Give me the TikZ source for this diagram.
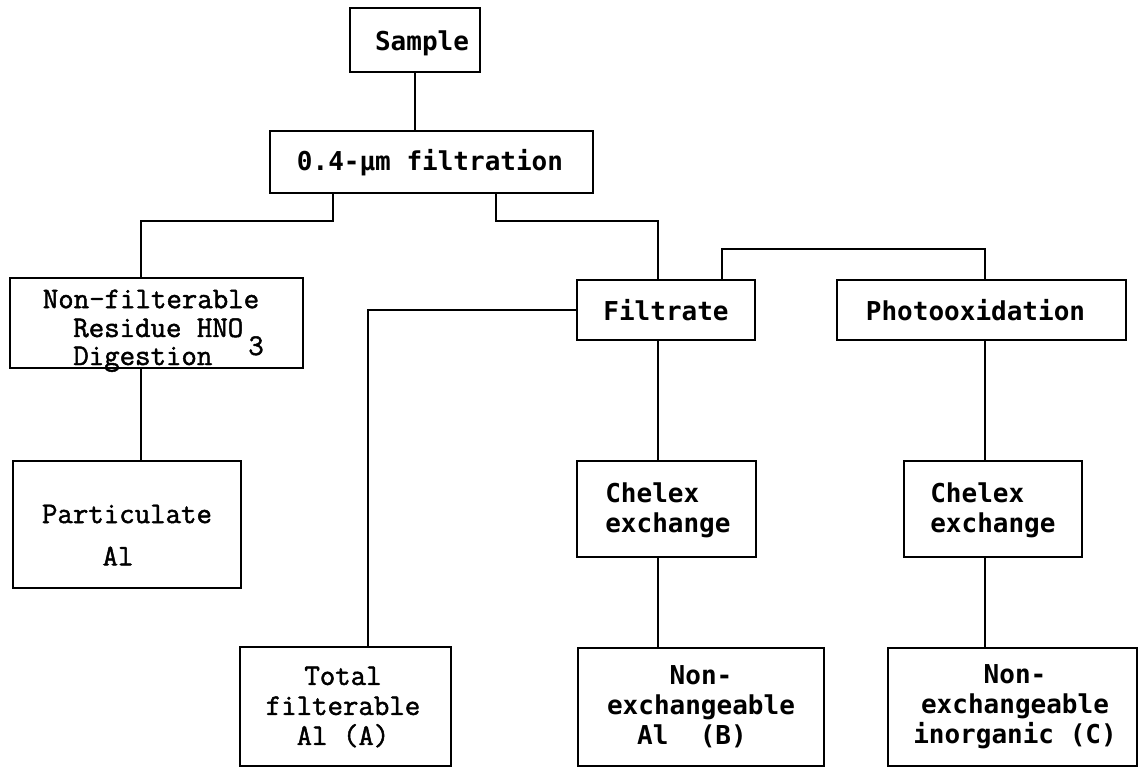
\documentclass[tikz,border=0pt]{standalone}
\usepackage{fontspec}
\setmonofont{Latin Modern Mono}[AutoFakeBold=1.6]
\newfontfamily\dmfont{DejaVu Sans Mono}
\begin{document}
\begin{tikzpicture}[x=1pt,y=-1pt,line width=2.6pt,
  box/.style={draw,line width=2.6pt,inner sep=0pt},
  dmt/.style={font=\fontsize{26}{30}\selectfont\dmfont\bfseries,align=center,inner sep=0pt},
  dml/.style={font=\fontsize{26}{30}\selectfont\dmfont\bfseries,align=left,inner sep=0pt},
  crt/.style={font=\fontsize{30}{30}\selectfont\ttfamily\bfseries,align=center,inner sep=0pt},
  crl/.style={font=\fontsize{30}{30}\selectfont\ttfamily\bfseries,inner sep=0pt,text height=17pt,text depth=3pt}]
\useasboundingbox (0,0) rectangle (1138,767);
% boxes
\node[box,minimum width=130,minimum height=64] (sample) at (415,40) {};
\node[box,minimum width=323,minimum height=62] (filt) at (431.5,162) {};
\node[box,minimum width=293,minimum height=90] (nonf) at (156.5,323) {};
\node[box,minimum width=178,minimum height=60] (filtrate) at (666,310) {};
\node[box,minimum width=289,minimum height=60] (photo) at (981.5,310) {};
\node[box,minimum width=228,minimum height=127] (part) at (127,524.5) {};
\node[box,minimum width=179,minimum height=96] (chel1) at (666.5,509) {};
\node[box,minimum width=178,minimum height=96] (chel2) at (993,509) {};
\node[box,minimum width=211,minimum height=119] (total) at (345.5,706.5) {};
\node[box,minimum width=246,minimum height=118] (nonB) at (701,707) {};
\node[box,minimum width=249,minimum height=118] (nonC) at (1012.5,707) {};
% texts
\node[dmt] (sampleT) at (422,43) {Sample};
\node[dmt] (filtT) at (430,163) {0.4-µm filtration};
\node[crt] (nonfT1) at (151,299) {Non-filterable};
\node[crl,anchor=west] (nonfT2) at (72,330) {Residue HNO};
\node[crl,anchor=west] (nonfT3) at (72,358) {Digestion};
\node[crl] (nonfT4) at (256,348) {3};
\node[dmt] (filtrateT) at (666,310) {Filtrate};
\node[dmt] (photoT) at (975.5,310) {Photooxidation};
\node[crt] (partT1) at (127,514) {Particulate};
\node[crt] (partT2) at (118,556) {Al};
\node[dml,anchor=west] (chel1T) at (604,510) {Chelex\\exchange};
\node[dml,anchor=west] (chel2T) at (929,510) {Chelex\\exchange};
\node[crt] (totalT) at (343,707) {Total\\filterable\\Al (A)};
\node[dmt] (nonBT) at (701,707) {Non-\\exchangeable\\Al~~(B)\hspace*{18pt}};
\node[dmt] (nonCT) at (1015,707) {Non-\\exchangeable\\inorganic (C)};
% junction coordinates
\coordinate (jL) at (333,221);
\coordinate (jR) at (496,221);
\coordinate (jP) at (722,249);
\coordinate (xL) at (141,0);
\coordinate (xF) at (658,0);
\coordinate (xP) at (985,0);
\coordinate (xT) at (368,0);
% connectors
\draw (sample.south) -- (sample.south |- filt.north);
\draw (jL |- filt.south) -- (jL) -| (xL |- nonf.north);
\draw (jR |- filt.south) -- (jR) -| (xF |- filtrate.north);
\draw (jP |- filtrate.north) -- (jP) -| (xP |- photo.north);
\draw (xL |- nonf.south) -- (xL |- part.north);
\draw (filtrate.west) -| (xT |- total.north);
\draw (xF |- filtrate.south) -- (xF |- chel1.north);
\draw (xF |- chel1.south) -- (xF |- nonB.north);
\draw (xP |- photo.south) -- (xP |- chel2.north);
\draw (xP |- chel2.south) -- (xP |- nonC.north);
\end{tikzpicture}
\end{document}
